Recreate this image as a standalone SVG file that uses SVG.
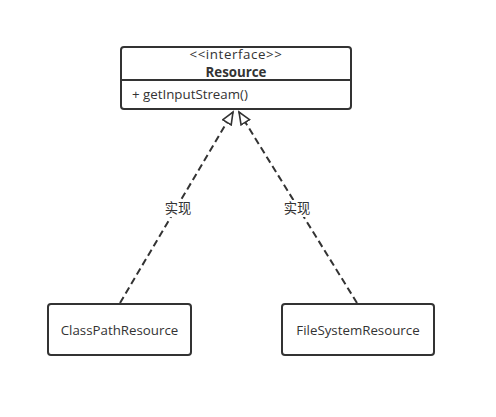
<svg xmlns="http://www.w3.org/2000/svg" width="496" height="417" viewBox="0 0 496 417">
<style>
.box{fill:#fff;stroke:#333;stroke-width:2}
.t{font-family:"Open Sans","Noto Sans","Noto Sans CJK SC",sans-serif;font-size:13.3px;fill:#333}
.edge{stroke:#333;stroke-width:2;stroke-dasharray:7,4;fill:none}
</style>
<defs>
<marker id="tri" markerUnits="userSpaceOnUse" markerWidth="16" markerHeight="14" refX="13" refY="6" orient="auto">
<path d="M1,1 L13,6 L1,11 Z" fill="#fff" stroke="#333" stroke-width="1.6"/>
</marker>
</defs>
<rect width="496" height="417" fill="#fff"/>
<g id="connectors">
<line class="edge" x1="120" y1="303" x2="233" y2="112" marker-end="url(#tri)"/>
<line class="edge" x1="357" y1="303" x2="239" y2="112" marker-end="url(#tri)"/>
<rect x="163" y="200" width="30" height="17" fill="#fff"/>
<text class="t" x="178" y="213" text-anchor="middle">实现</text>
<rect x="282" y="200" width="30" height="17" fill="#fff"/>
<text class="t" x="297" y="213" text-anchor="middle">实现</text>
</g>
<g id="Resource">
<rect class="box" x="121" y="47" width="230" height="62" rx="3"/>
<line x1="121" y1="80" x2="351" y2="80" stroke="#333" stroke-width="2"/>
<text class="t" x="236" y="59" text-anchor="middle" font-size="12.5" letter-spacing="0.6">&lt;&lt;interface&gt;&gt;</text>
<text class="t" x="236" y="77" text-anchor="middle" font-weight="bold">Resource</text>
<text class="t" x="132" y="99">+ getInputStream()</text>
</g>
<g id="ClassPathResource">
<rect class="box" x="48" y="304" width="143" height="51" rx="3"/>
<text class="t" x="119.5" y="335" text-anchor="middle">ClassPathResource</text>
</g>
<g id="FileSystemResource">
<rect class="box" x="282" y="304" width="152" height="51" rx="3"/>
<text class="t" x="358" y="335" text-anchor="middle">FileSystemResource</text>
</g>
</svg>
